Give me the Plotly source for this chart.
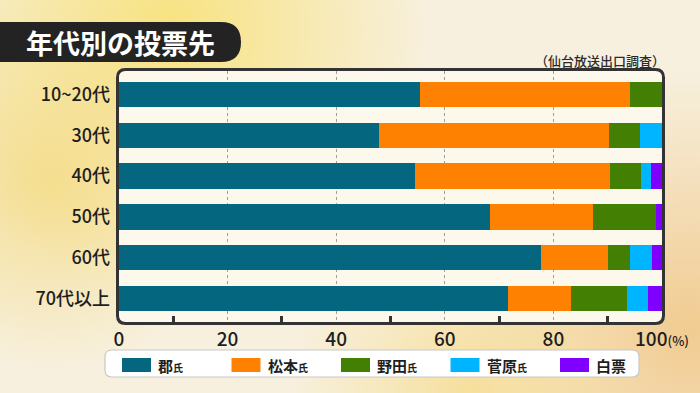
import base64
import plotly.graph_objects as go

# ---------------- data ----------------
age_groups = ["10~20代", "30代", "40代", "50代", "60代", "70代以上"]
series_names = ["郡氏", "松本氏", "野田氏", "菅原氏", "白票"]
series_colors = ["#04667F", "#FF8102", "#437F02", "#00B5FF", "#7F00FF"]
kori = [55.5, 47.8, 54.6, 68.4, 77.8, 71.7]
matsumoto = [38.6, 42.5, 35.8, 18.8, 12.3, 11.6]
noda = [5.9, 5.7, 5.7, 11.7, 4.0, 10.3]
sugawara = [0.0, 4.0, 1.8, 0.0, 4.1, 3.8]
hakuhyo = [0.0, 0.0, 2.1, 1.1, 1.8, 2.6]
series_values = [kori, matsumoto, noda, sugawara, hakuhyo]
x_tickvals = [0, 20, 40, 60, 80, 100]
x_ticktext = ["0", "20", "40", "60", "80", "100<span style='font-size:13px'>(%)</span>"]
x_minor_ticks = [10, 30, 50, 70, 90]
title_text = "年代別の投票先"
source_text = "（仙台放送出口調査）"

# ---------------- layout geometry (pixels) ----------------
W, H = 700, 393
L, R, T, B = 119, 662, 71, 322
FONT = "Noto Sans CJK JP"


def px(X):
    return (X - L) / (R - L)


def py(Y):
    return (B - Y) / (B - T)


def rrect(x0, y0, x1, y1, r):
    a, b, c, d = px(x0), px(x1), py(y0), py(y1)
    rx = r / (R - L)
    ry = r / (B - T)
    return (f"M{a+rx},{c} L{b-rx},{c} Q{b},{c} {b},{c-ry} "
            f"L{b},{d+ry} Q{b},{d} {b-rx},{d} L{a+rx},{d} "
            f"Q{a},{d} {a},{d+ry} L{a},{c-ry} Q{a},{c} {a+rx},{c} Z")


# background gradient as svg image
svg = f"""<svg xmlns='http://www.w3.org/2000/svg' width='{W}' height='{H}' viewBox='0 0 {W} {H}'>
<defs>
<radialGradient id='g1' cx='170' cy='30' r='260' gradientUnits='userSpaceOnUse'>
<stop offset='0' stop-color='#F7E27A' stop-opacity='0.95'/><stop offset='1' stop-color='#F7E27A' stop-opacity='0'/></radialGradient>
<radialGradient id='g2' cx='50' cy='180' r='190' gradientUnits='userSpaceOnUse'>
<stop offset='0' stop-color='#F4DC88' stop-opacity='0.9'/><stop offset='1' stop-color='#F4DC88' stop-opacity='0'/></radialGradient>
<radialGradient id='g3' cx='690' cy='330' r='260' gradientUnits='userSpaceOnUse'>
<stop offset='0' stop-color='#F1C98C' stop-opacity='0.95'/><stop offset='1' stop-color='#F1C98C' stop-opacity='0'/></radialGradient>
<radialGradient id='g4' cx='470' cy='393' r='180' gradientUnits='userSpaceOnUse'>
<stop offset='0' stop-color='#F6DC8E' stop-opacity='0.8'/><stop offset='1' stop-color='#F6DC8E' stop-opacity='0'/></radialGradient>
</defs>
<rect width='{W}' height='{H}' fill='#F7F0DE'/>
<rect width='{W}' height='{H}' fill='url(#g1)'/>
<rect width='{W}' height='{H}' fill='url(#g2)'/>
<rect width='{W}' height='{H}' fill='url(#g3)'/>
<rect width='{W}' height='{H}' fill='url(#g4)'/>
</svg>"""
bg_uri = "data:image/svg+xml;base64," + base64.b64encode(svg.encode()).decode()

fig = go.Figure()
for name, vals, col in zip(series_names, series_values, series_colors):
    fig.add_trace(go.Bar(
        y=age_groups, x=vals, name=name, orientation="h",
        marker=dict(color=col, line=dict(width=0)), showlegend=False,
    ))

shapes = []
# plot frame fill
shapes.append(dict(type="path", xref="paper", yref="paper", path=rrect(117.5, 69.5, 663.5, 323.5, 8),
                   fillcolor="#FCF9EC", line=dict(width=0), layer="below"))
# plot frame border
shapes.append(dict(type="path", xref="paper", yref="paper", path=rrect(117.5, 69.5, 663.5, 323.5, 8),
                   fillcolor="rgba(0,0,0,0)", line=dict(width=3, color="#333333"), layer="above"))
# title pill
tx0, tx1, ty0, ty1 = -10, 241, 22, 62
rr = (ty1 - ty0) / 2
shapes.append(dict(type="path", xref="paper", yref="paper",
                   path=(f"M{px(tx0)},{py(ty0)} L{px(tx1-rr)},{py(ty0)} "
                         f"Q{px(tx1)},{py(ty0)} {px(tx1)},{py(ty0+rr)} "
                         f"Q{px(tx1)},{py(ty1)} {px(tx1-rr)},{py(ty1)} "
                         f"L{px(tx0)},{py(ty1)} Z"),
                   fillcolor="#232323", line=dict(width=0), layer="above"))
# legend box
shapes.append(dict(type="path", xref="paper", yref="paper", path=rrect(105, 350, 639, 377, 7),
                   fillcolor="#FFFFFF", line=dict(width=1.2, color="#C8C8C8"), layer="above"))

annotations = []
step = 109.5
for i, (name, col) in enumerate(zip(series_names, series_colors)):
    sx = 122 + i * step
    shapes.append(dict(type="rect", xref="paper", yref="paper",
                       x0=px(sx), x1=px(sx + 29), y0=py(358), y1=py(372),
                       fillcolor=col, line=dict(width=0), layer="above"))
    if name.endswith("氏"):
        label = name[:-1] + "<span style='font-size:10px'>氏</span>"
    else:
        label = name
    annotations.append(dict(xref="paper", yref="paper", x=px(sx + 34), y=py(365.5),
                            xanchor="left", yanchor="middle", showarrow=False, text=label,
                            font=dict(family=FONT, size=15, color="#1E1E1E", weight=600)))

annotations.append(dict(xref="paper", yref="paper", x=px(24), y=py(42.5), xanchor="left",
                        yanchor="middle", showarrow=False, text=title_text,
                        font=dict(family=FONT, size=27, color="#FFFFFF", weight=700)))
annotations.append(dict(xref="paper", yref="paper", x=px(667), y=py(60), xanchor="right",
                        yanchor="middle", showarrow=False, text=source_text,
                        font=dict(family=FONT, size=13, color="#2A2A2A", weight=500)))

fig.update_layout(
    width=W, height=H,
    margin=dict(l=L, r=W - R, t=T, b=H - B, pad=0, autoexpand=False),
    barmode="stack", bargap=0.38,
    paper_bgcolor="#F7F0DE", plot_bgcolor="rgba(0,0,0,0)",
    font=dict(family=FONT, color="#222222"),
    shapes=shapes, annotations=annotations,
    images=[dict(source=bg_uri, xref="paper", yref="paper", x=px(0), y=py(0),
                 sizex=px(W) - px(0), sizey=py(0) - py(H), sizing="stretch",
                 xanchor="left", yanchor="top", layer="below")],
    xaxis=dict(range=[0, 100], tickmode="array", tickvals=x_tickvals, ticktext=x_ticktext,
               showgrid=True, gridcolor="#9E9E9E", gridwidth=1, griddash="dot",
               zeroline=False, showline=False, ticks="", ticklabelstandoff=4,
               automargin=False,
               tickfont=dict(family=FONT, size=19, color="#1E1E1E", weight=500),
               minor=dict(tickmode="array", tickvals=x_minor_ticks, ticks="inside",
                          ticklen=6, tickwidth=3, tickcolor="#333333", showgrid=False),
               fixedrange=True),
    yaxis=dict(type="category", categoryorder="array", categoryarray=age_groups,
               range=[5.576, -0.576], showgrid=False, zeroline=False, showline=False,
               ticks="", ticklabelstandoff=8, automargin=False,
               tickfont=dict(family=FONT, size=18, color="#1E1E1E", weight=500),
               fixedrange=True),
)

fig.write_html("out.html", config={"displayModeBar": False},
               post_script="document.body.style.margin='0';document.body.style.overflow='hidden';")
